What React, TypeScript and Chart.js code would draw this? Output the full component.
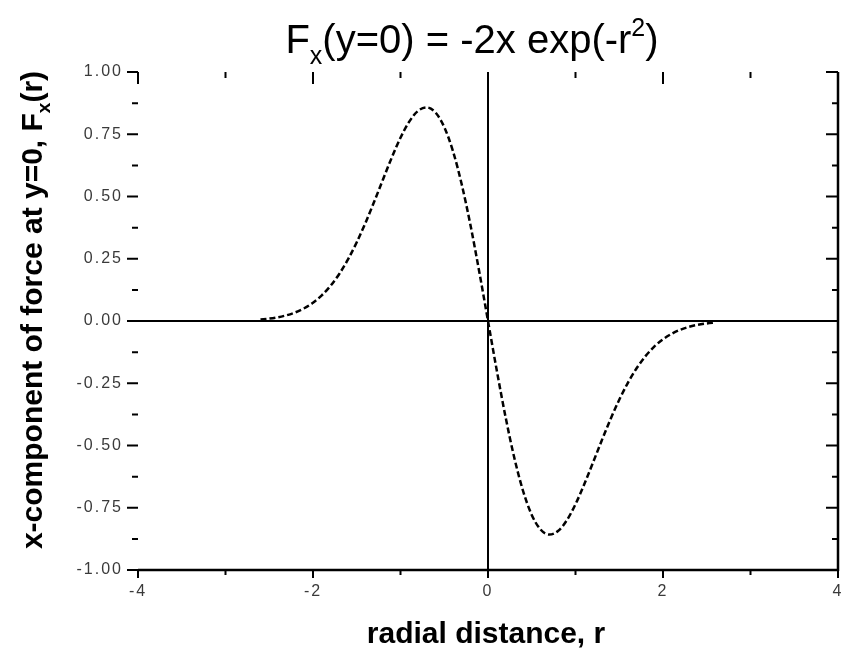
import { useEffect, useRef } from "react";
import { Chart, registerables } from "chart.js";

Chart.register(...registerables);

// Radial distance samples and the x-component of the force at y = 0
const radius = [
  -2.6, -2.5, -2.4, -2.3, -2.2, -2.1, -2.0, -1.9, -1.8, -1.7, -1.6, -1.5, -1.4,
  -1.3, -1.2, -1.1, -1.0, -0.9, -0.8, -0.7, -0.6, -0.5, -0.4, -0.3, -0.2, -0.1,
  0.0, 0.1, 0.2, 0.3, 0.4, 0.5, 0.6, 0.7, 0.8, 0.9, 1.0, 1.1, 1.2, 1.3, 1.4,
  1.5, 1.6, 1.7, 1.8, 1.9, 2.0, 2.1, 2.2, 2.3, 2.4, 2.5, 2.6,
];
const forceX = [
  0.006, 0.0097, 0.0151, 0.0232, 0.0348, 0.0511, 0.0733, 0.1028, 0.141, 0.189,
  0.2474, 0.3162, 0.3944, 0.4798, 0.5686, 0.656, 0.7358, 0.8007, 0.8437, 0.8577,
  0.8372, 0.7788, 0.6817, 0.5484, 0.3843, 0.198, 0.0, -0.198, -0.3843, -0.5484,
  -0.6817, -0.7788, -0.8372, -0.8577, -0.8437, -0.8007, -0.7358, -0.656,
  -0.5686, -0.4798, -0.3944, -0.3162, -0.2474, -0.189, -0.141, -0.1028,
  -0.0733, -0.0511, -0.0348, -0.0232, -0.0151, -0.0097, -0.006,
];

const xMajorTicks = [-4, -2, 0, 2, 4];
const xMinorTicks = [-3, -1, 1, 3];
const xTickLabels = ["-4", "-2", "0", "2", "4"];
const yMajorTicks = [1, 0.75, 0.5, 0.25, 0, -0.25, -0.5, -0.75, -1];
const yMinorTicks = [0.875, 0.625, 0.375, 0.125, -0.125, -0.375, -0.625, -0.875];
const yTickLabels = ["1.00", "0.75", "0.50", "0.25", "0.00", "-0.25", "-0.50", "-0.75", "-1.00"];

type Seg = { t: string; k?: "sub" | "sup" };

const titleSegs: Seg[] = [
  { t: "F" },
  { t: "x", k: "sub" },
  { t: "(y=0) = -2x exp(-r" },
  { t: "2", k: "sup" },
  { t: ")" },
];
const yTitleSegs: Seg[] = [
  { t: "x-component of force at y=0, F" },
  { t: "x", k: "sub" },
  { t: "(r)" },
];
const xTitle = "radial distance, r";

const FAMILY = '"Liberation Sans", Arial, sans-serif';

// Draws a run of text with sub/superscript pieces, centred on cx at baseline by
function drawRich(
  ctx: CanvasRenderingContext2D,
  segs: Seg[],
  cx: number,
  by: number,
  size: number,
  weight: string
) {
  const fontFor = (s: Seg) =>
    `${weight} ${s.k ? Math.round(size * 0.62) : size}px ${FAMILY}`;
  let total = 0;
  const widths = segs.map((s) => {
    ctx.font = fontFor(s);
    const w = ctx.measureText(s.t).width;
    total += w;
    return w;
  });
  let x = cx - total / 2;
  ctx.textAlign = "left";
  ctx.textBaseline = "alphabetic";
  segs.forEach((s, i) => {
    ctx.font = fontFor(s);
    const dy = s.k === "sub" ? size * 0.28 : s.k === "sup" ? -size * 0.42 : 0;
    ctx.fillText(s.t, x, by + dy);
    x += widths[i];
  });
}

const framePlugin = {
  id: "originFrame",
  beforeDatasetsDraw(chart: any) {
    const { ctx, chartArea: a, scales } = chart;
    const xs = scales.x;
    const ys = scales.y;
    const x0 = xs.getPixelForValue(0);
    const y0 = ys.getPixelForValue(0);
    ctx.save();
    ctx.strokeStyle = "#000";
    ctx.lineWidth = 2;
    ctx.beginPath();
    ctx.moveTo(a.left, y0);
    ctx.lineTo(a.right, y0);
    ctx.moveTo(x0, a.top);
    ctx.lineTo(x0, a.bottom);
    ctx.stroke();
    ctx.restore();
  },
  afterDatasetsDraw(chart: any) {
    const { ctx, chartArea: a, scales } = chart;
    const xs = scales.x;
    const ys = scales.y;
    ctx.save();
    ctx.strokeStyle = "#000";
    ctx.fillStyle = "#000";

    // bottom and right axis lines
    ctx.lineWidth = 2.5;
    ctx.beginPath();
    ctx.moveTo(a.left, a.bottom);
    ctx.lineTo(a.right, a.bottom);
    ctx.moveTo(a.right, a.top);
    ctx.lineTo(a.right, a.bottom + 1);
    ctx.stroke();

    ctx.lineWidth = 2;
    ctx.beginPath();
    // x ticks: outward on the bottom, inward from the top
    xMajorTicks.forEach((v) => {
      const px = xs.getPixelForValue(v);
      ctx.moveTo(px, a.bottom);
      ctx.lineTo(px, a.bottom + 8);
      ctx.moveTo(px, a.top);
      ctx.lineTo(px, a.top + 12);
    });
    xMinorTicks.forEach((v) => {
      const px = xs.getPixelForValue(v);
      ctx.moveTo(px, a.bottom);
      ctx.lineTo(px, a.bottom + 5);
      ctx.moveTo(px, a.top);
      ctx.lineTo(px, a.top + 6);
    });
    // y ticks: outward on the left, inward from the right
    yMajorTicks.forEach((v) => {
      const py = ys.getPixelForValue(v);
      ctx.moveTo(a.left - 11, py);
      ctx.lineTo(a.left, py);
      ctx.moveTo(a.right - 12, py);
      ctx.lineTo(a.right, py);
    });
    yMinorTicks.forEach((v) => {
      const py = ys.getPixelForValue(v);
      ctx.moveTo(a.left - 6, py);
      ctx.lineTo(a.left, py);
      ctx.moveTo(a.right - 6, py);
      ctx.lineTo(a.right, py);
    });
    ctx.stroke();

    // tick labels
    ctx.fillStyle = "#3a3a3a";
    ctx.font = `16px ${FAMILY}`;
    (ctx as any).letterSpacing = "2px";
    ctx.textAlign = "right";
    ctx.textBaseline = "middle";
    yMajorTicks.forEach((v, i) => {
      ctx.fillText(yTickLabels[i], a.left - 15, ys.getPixelForValue(v));
    });
    ctx.textAlign = "center";
    ctx.textBaseline = "top";
    xMajorTicks.forEach((v, i) => {
      ctx.fillText(xTickLabels[i], xs.getPixelForValue(v), a.bottom + 14);
    });
    (ctx as any).letterSpacing = "0px";

    // titles
    ctx.fillStyle = "#000";
    drawRich(ctx, titleSegs, 472, 53, 40, "normal");

    ctx.font = `bold 30px ${FAMILY}`;
    ctx.textAlign = "center";
    ctx.textBaseline = "alphabetic";
    ctx.fillText(xTitle, 486, 643);

    ctx.translate(42, 310);
    ctx.rotate(-Math.PI / 2);
    drawRich(ctx, yTitleSegs, 0, 0, 30, "bold");
    ctx.restore();
  },
};

export default function App() {
  const canvasRef = useRef<HTMLCanvasElement | null>(null);

  useEffect(() => {
    document.body.style.margin = "0";
    const canvas = canvasRef.current;
    if (!canvas) return;
    const chart = new Chart(canvas, {
      type: "line",
      data: {
        datasets: [
          {
            data: radius.map((r, i) => ({ x: r, y: forceX[i] })),
            borderColor: "#000",
            borderWidth: 2.5,
            borderDash: [6, 3],
            pointRadius: 0,
            cubicInterpolationMode: "monotone",
            fill: false,
          },
        ],
      },
      options: {
        animation: false,
        responsive: false,
        devicePixelRatio: 1,
        layout: { padding: { left: 138, right: 3, top: 72, bottom: 84 } },
        scales: {
          x: { type: "linear", min: -4, max: 4, display: false },
          y: { type: "linear", min: -1, max: 1, display: false },
        },
        plugins: {
          legend: { display: false },
          tooltip: { enabled: false },
          title: { display: false },
        },
      },
      plugins: [framePlugin],
    });
    return () => chart.destroy();
  }, []);

  return (
    <div style={{ width: 841, height: 654, background: "#fff" }}>
      <canvas ref={canvasRef} width={841} height={654} style={{ display: "block" }} />
    </div>
  );
}
